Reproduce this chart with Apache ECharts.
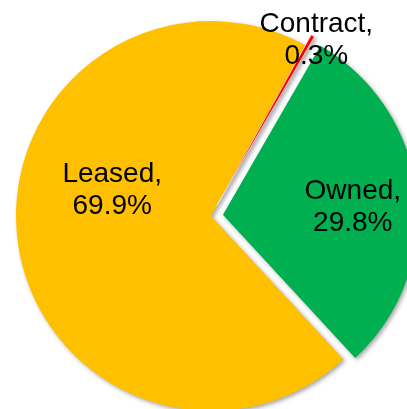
<!DOCTYPE html>
<html><head><meta charset="utf-8">
<script src="https://cdn.jsdelivr.net/npm/echarts@6/dist/echarts.min.js"></script>
<style>html,body{margin:0;padding:0;background:#fff}#c{width:407px;height:409px}</style>
</head><body><div id="c"></div>
<script>
const categories = ['Owned', 'Leased', 'Contract'];
const values = [29.8, 69.9, 0.3];
const colors = ['#00B050', '#FFC000', '#FF0000'];
const labelShift = [[30, 4], [1, -38], [50, -78]];

const chart = echarts.init(document.getElementById('c'), null, {renderer: 'canvas'});
chart.setOption({
  animation: false,
  series: [{
    type: 'pie',
    center: [211, 216],
    radius: [0, 195],
    startAngle: 60,
    clockwise: true,
    selectedMode: 'multiple',
    selectedOffset: 12,
    avoidLabelOverlap: false,
    percentPrecision: 1,
    emphasis: {disabled: true},
    itemStyle: {
      shadowBlur: 4, shadowOffsetX: 2, shadowOffsetY: 2, shadowColor: 'rgba(0,0,0,0.35)'
    },
    label: {
      show: true, position: 'inside',
      formatter: '{b},\n{d}%',
      fontFamily: 'Liberation Sans, Arial, sans-serif',
      fontSize: 28, lineHeight: 32, color: '#000'
    },
    labelLine: {show: false},
    labelLayout: function (p) {
      const s = labelShift[p.dataIndex];
      return {dx: s[0], dy: s[1]};
    },
    data: categories.map((n, i) => ({
      name: n, value: values[i],
      selected: n !== 'Leased',
      itemStyle: {color: colors[i], borderColor: n === 'Contract' ? '#fff' : 'rgba(0,0,0,0)', borderWidth: n === 'Contract' ? 0.6 : 0}
    }))
  }]
});
</script></body></html>
